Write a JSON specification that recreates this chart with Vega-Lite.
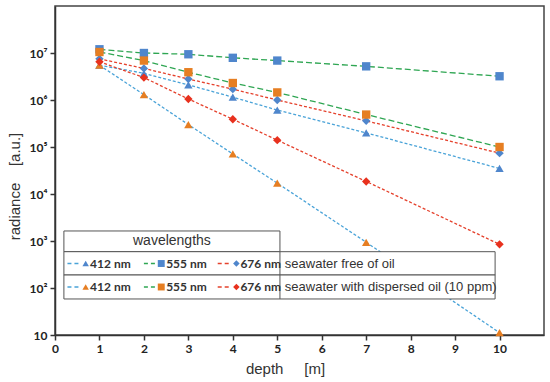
{
  "$schema": "https://vega.github.io/schema/vega-lite/v6.json",
  "width": 489,
  "height": 329,
  "autosize": {"type": "none"},
  "padding": {"left": 55, "top": 6, "right": 6, "bottom": 47},
  "background": "white",
  "config": {
    "view": {"stroke": "#444", "strokeWidth": 1.5},
    "axis": {
      "grid": false,
      "domainColor": "#333",
      "domainWidth": 1.5,
      "tickColor": "#333",
      "tickWidth": 1.5,
      "tickSize": 5,
      "labelFont": "Lato",
      "labelFontWeight": "bold",
      "labelFontSize": 12,
      "labelColor": "#222",
      "labelPadding": 3,
      "titleFont": "Liberation Sans",
      "titleFontWeight": "normal",
      "titleFontSize": 15,
      "titleColor": "#333"
    }
  },
  "data": {
    "values": [
      {"depth": 1, "radiance": 5500000, "wavelength": "412 nm", "water": "free of oil"},
      {"depth": 2, "radiance": 3700000, "wavelength": "412 nm", "water": "free of oil"},
      {"depth": 3, "radiance": 2100000, "wavelength": "412 nm", "water": "free of oil"},
      {"depth": 4, "radiance": 1150000, "wavelength": "412 nm", "water": "free of oil"},
      {"depth": 5, "radiance": 610000, "wavelength": "412 nm", "water": "free of oil"},
      {"depth": 7, "radiance": 200000, "wavelength": "412 nm", "water": "free of oil"},
      {"depth": 10, "radiance": 35000, "wavelength": "412 nm", "water": "free of oil"},
      {"depth": 1, "radiance": 12000000, "wavelength": "555 nm", "water": "free of oil"},
      {"depth": 2, "radiance": 10000000, "wavelength": "555 nm", "water": "free of oil"},
      {"depth": 3, "radiance": 9400000, "wavelength": "555 nm", "water": "free of oil"},
      {"depth": 4, "radiance": 7900000, "wavelength": "555 nm", "water": "free of oil"},
      {"depth": 5, "radiance": 6900000, "wavelength": "555 nm", "water": "free of oil"},
      {"depth": 7, "radiance": 5200000, "wavelength": "555 nm", "water": "free of oil"},
      {"depth": 10, "radiance": 3200000, "wavelength": "555 nm", "water": "free of oil"},
      {"depth": 1, "radiance": 7500000, "wavelength": "676 nm", "water": "free of oil"},
      {"depth": 2, "radiance": 4700000, "wavelength": "676 nm", "water": "free of oil"},
      {"depth": 3, "radiance": 2800000, "wavelength": "676 nm", "water": "free of oil"},
      {"depth": 4, "radiance": 1700000, "wavelength": "676 nm", "water": "free of oil"},
      {"depth": 5, "radiance": 1000000, "wavelength": "676 nm", "water": "free of oil"},
      {"depth": 7, "radiance": 360000, "wavelength": "676 nm", "water": "free of oil"},
      {"depth": 10, "radiance": 74000, "wavelength": "676 nm", "water": "free of oil"},
      {"depth": 1, "radiance": 5500000, "wavelength": "412 nm", "water": "dispersed oil"},
      {"depth": 2, "radiance": 1300000, "wavelength": "412 nm", "water": "dispersed oil"},
      {"depth": 3, "radiance": 300000, "wavelength": "412 nm", "water": "dispersed oil"},
      {"depth": 4, "radiance": 71000, "wavelength": "412 nm", "water": "dispersed oil"},
      {"depth": 5, "radiance": 17000, "wavelength": "412 nm", "water": "dispersed oil"},
      {"depth": 7, "radiance": 940, "wavelength": "412 nm", "water": "dispersed oil"},
      {"depth": 10, "radiance": 11.2, "wavelength": "412 nm", "water": "dispersed oil"},
      {"depth": 1, "radiance": 10500000, "wavelength": "555 nm", "water": "dispersed oil"},
      {"depth": 2, "radiance": 6900000, "wavelength": "555 nm", "water": "dispersed oil"},
      {"depth": 3, "radiance": 3900000, "wavelength": "555 nm", "water": "dispersed oil"},
      {"depth": 4, "radiance": 2300000, "wavelength": "555 nm", "water": "dispersed oil"},
      {"depth": 5, "radiance": 1450000, "wavelength": "555 nm", "water": "dispersed oil"},
      {"depth": 7, "radiance": 490000, "wavelength": "555 nm", "water": "dispersed oil"},
      {"depth": 10, "radiance": 100000, "wavelength": "555 nm", "water": "dispersed oil"},
      {"depth": 1, "radiance": 6500000, "wavelength": "676 nm", "water": "dispersed oil"},
      {"depth": 2, "radiance": 3000000, "wavelength": "676 nm", "water": "dispersed oil"},
      {"depth": 3, "radiance": 1050000, "wavelength": "676 nm", "water": "dispersed oil"},
      {"depth": 4, "radiance": 390000, "wavelength": "676 nm", "water": "dispersed oil"},
      {"depth": 5, "radiance": 140000, "wavelength": "676 nm", "water": "dispersed oil"},
      {"depth": 7, "radiance": 18500, "wavelength": "676 nm", "water": "dispersed oil"},
      {"depth": 10, "radiance": 850, "wavelength": "676 nm", "water": "dispersed oil"}
    ]
  },
  "layer": [
    {
      "mark": {"type": "line", "strokeWidth": 1.3},
      "encoding": {
        "x": {
          "field": "depth", "type": "quantitative",
          "scale": {"domain": [0, 11], "nice": false},
          "axis": {
            "values": [0, 1, 2, 3, 4, 5, 6, 7, 8, 9, 10],
            "format": "d",
            "labelFlush": false,
            "title": "depth\u00a0\u00a0\u00a0\u00a0\u00a0[m]",
            "titleX": 230,
            "titleY": 38,
            "titleAnchor": null,
            "titleAlign": "center",
            "titleBaseline": "alphabetic"
          }
        },
        "y": {
          "field": "radiance", "type": "quantitative",
          "scale": {"type": "log", "domain": [10, 100000000], "nice": false},
          "axis": {
            "values": [10, 100, 1000, 10000, 100000, 1000000, 10000000],
            "labelExpr": "datum.value == 10 ? '10' : '10' + ['', '', '²', '³', '⁴', '⁵', '⁶', '⁷', '⁸'][round(log(datum.value) / LN10)]",
            "labelFlush": false,
            "title": "radiance\u00a0\u00a0\u00a0\u00a0[a.u.]",
            "titleAngle": -90,
            "titleX": -36,
            "titleY": 180,
            "titleAlign": "center",
            "titleBaseline": "alphabetic"
          }
        },
        "color": {
          "field": "wavelength", "type": "nominal",
          "scale": {"domain": ["412 nm", "555 nm", "676 nm"], "range": ["#4aa3d8", "#2fa653", "#e5412c"]},
          "legend": null
        },
        "strokeDash": {
          "field": "wavelength", "type": "nominal",
          "scale": {"domain": ["412 nm", "555 nm", "676 nm"], "range": [[3, 2], [6, 3], [3, 2]]},
          "legend": null
        },
        "detail": {"field": "water", "type": "nominal"}
      }
    },
    {
      "mark": {"type": "point", "filled": true, "size": 70, "opacity": 1},
      "encoding": {
        "x": {"field": "depth", "type": "quantitative"},
        "y": {"field": "radiance", "type": "quantitative"},
        "shape": {
          "field": "wavelength", "type": "nominal",
          "scale": {"domain": ["412 nm", "555 nm", "676 nm"], "range": ["triangle-up", "square", "diamond"]},
          "legend": null
        },
        "fill": {
          "condition": {"test": "datum.water == 'free of oil'", "value": "#4f86cc"},
          "field": "wavelength", "type": "nominal",
          "scale": {"domain": ["412 nm", "555 nm", "676 nm"], "range": ["#e67e22", "#e67e22", "#e8311e"]},
          "legend": null
        }
      }
    },
    {
      "data": {"values": [{}]},
      "layer": [
        {"mark": {"type": "rect", "fill": "white", "stroke": "#555", "strokeWidth": 1},
         "encoding": {"x": {"datum": 0.2}, "x2": {"datum": 5.06}, "y": {"datum": 1634}, "y2": {"datum": 592}}},
        {"mark": {"type": "rect", "fill": "white", "stroke": "#555", "strokeWidth": 1},
         "encoding": {"x": {"datum": 0.2}, "x2": {"datum": 9.9}, "y": {"datum": 592}, "y2": {"datum": 189}}},
        {"mark": {"type": "rect", "fill": "white", "stroke": "#555", "strokeWidth": 1},
         "encoding": {"x": {"datum": 0.2}, "x2": {"datum": 9.9}, "y": {"datum": 189}, "y2": {"datum": 58.4}}},
        {"mark": {"type": "rule", "stroke": "#555", "strokeWidth": 1},
         "encoding": {"x": {"datum": 5.06}, "y": {"datum": 592}, "y2": {"datum": 58.4}}},
        {"mark": {"type": "text", "text": "wavelengths", "font": "Liberation Sans", "fontSize": 14, "color": "#333", "align": "center", "baseline": "middle"},
         "encoding": {"x": {"datum": 2.63}, "y": {"datum": 983}}},

        {"mark": {"type": "rule", "stroke": "#4aa3d8", "strokeWidth": 1.3, "strokeDash": [4, 3]},
         "encoding": {"x": {"datum": 0.28}, "x2": {"datum": 0.58}, "y": {"datum": 332}}},
        {"mark": {"type": "point", "shape": "triangle-up", "filled": true, "color": "#4f86cc", "size": 42, "opacity": 1},
         "encoding": {"x": {"datum": 0.69}, "y": {"datum": 332}}},
        {"mark": {"type": "text", "text": "412 nm", "font": "Lato", "fontWeight": "bold", "fontSize": 12, "color": "#333", "align": "left", "baseline": "middle"},
         "encoding": {"x": {"datum": 0.79}, "y": {"datum": 332}}},
        {"mark": {"type": "rule", "stroke": "#2fa653", "strokeWidth": 1.3, "strokeDash": [4, 3]},
         "encoding": {"x": {"datum": 2.0}, "x2": {"datum": 2.27}, "y": {"datum": 332}}},
        {"mark": {"type": "point", "shape": "square", "filled": true, "color": "#4f86cc", "size": 48, "opacity": 1},
         "encoding": {"x": {"datum": 2.39}, "y": {"datum": 332}}},
        {"mark": {"type": "text", "text": "555 nm", "font": "Lato", "fontWeight": "bold", "fontSize": 12, "color": "#333", "align": "left", "baseline": "middle"},
         "encoding": {"x": {"datum": 2.5}, "y": {"datum": 332}}},
        {"mark": {"type": "rule", "stroke": "#e5412c", "strokeWidth": 1.3, "strokeDash": [4, 3]},
         "encoding": {"x": {"datum": 3.66}, "x2": {"datum": 3.95}, "y": {"datum": 332}}},
        {"mark": {"type": "point", "shape": "diamond", "filled": true, "color": "#4f86cc", "size": 42, "opacity": 1},
         "encoding": {"x": {"datum": 4.08}, "y": {"datum": 332}}},
        {"mark": {"type": "text", "text": "676 nm", "font": "Lato", "fontWeight": "bold", "fontSize": 12, "color": "#333", "align": "left", "baseline": "middle"},
         "encoding": {"x": {"datum": 4.17}, "y": {"datum": 332}}},
        {"mark": {"type": "text", "text": "seawater free of oil", "font": "Liberation Sans", "fontSize": 13, "color": "#333", "align": "left", "baseline": "middle"},
         "encoding": {"x": {"datum": 5.17}, "y": {"datum": 332}}},

        {"mark": {"type": "rule", "stroke": "#4aa3d8", "strokeWidth": 1.3, "strokeDash": [4, 3]},
         "encoding": {"x": {"datum": 0.28}, "x2": {"datum": 0.58}, "y": {"datum": 105}}},
        {"mark": {"type": "point", "shape": "triangle-up", "filled": true, "color": "#e67e22", "size": 42, "opacity": 1},
         "encoding": {"x": {"datum": 0.69}, "y": {"datum": 105}}},
        {"mark": {"type": "text", "text": "412 nm", "font": "Lato", "fontWeight": "bold", "fontSize": 12, "color": "#333", "align": "left", "baseline": "middle"},
         "encoding": {"x": {"datum": 0.79}, "y": {"datum": 105}}},
        {"mark": {"type": "rule", "stroke": "#2fa653", "strokeWidth": 1.3, "strokeDash": [4, 3]},
         "encoding": {"x": {"datum": 2.0}, "x2": {"datum": 2.27}, "y": {"datum": 105}}},
        {"mark": {"type": "point", "shape": "square", "filled": true, "color": "#e67e22", "size": 48, "opacity": 1},
         "encoding": {"x": {"datum": 2.39}, "y": {"datum": 105}}},
        {"mark": {"type": "text", "text": "555 nm", "font": "Lato", "fontWeight": "bold", "fontSize": 12, "color": "#333", "align": "left", "baseline": "middle"},
         "encoding": {"x": {"datum": 2.5}, "y": {"datum": 105}}},
        {"mark": {"type": "rule", "stroke": "#e5412c", "strokeWidth": 1.3, "strokeDash": [4, 3]},
         "encoding": {"x": {"datum": 3.66}, "x2": {"datum": 3.95}, "y": {"datum": 105}}},
        {"mark": {"type": "point", "shape": "diamond", "filled": true, "color": "#e8311e", "size": 42, "opacity": 1},
         "encoding": {"x": {"datum": 4.08}, "y": {"datum": 105}}},
        {"mark": {"type": "text", "text": "676 nm", "font": "Lato", "fontWeight": "bold", "fontSize": 12, "color": "#333", "align": "left", "baseline": "middle"},
         "encoding": {"x": {"datum": 4.17}, "y": {"datum": 105}}},
        {"mark": {"type": "text", "text": "seawater with dispersed oil (10 ppm)", "font": "Liberation Sans", "fontSize": 13, "color": "#333", "align": "left", "baseline": "middle"},
         "encoding": {"x": {"datum": 5.17}, "y": {"datum": 105}}}
      ]
    }
  ]
}
